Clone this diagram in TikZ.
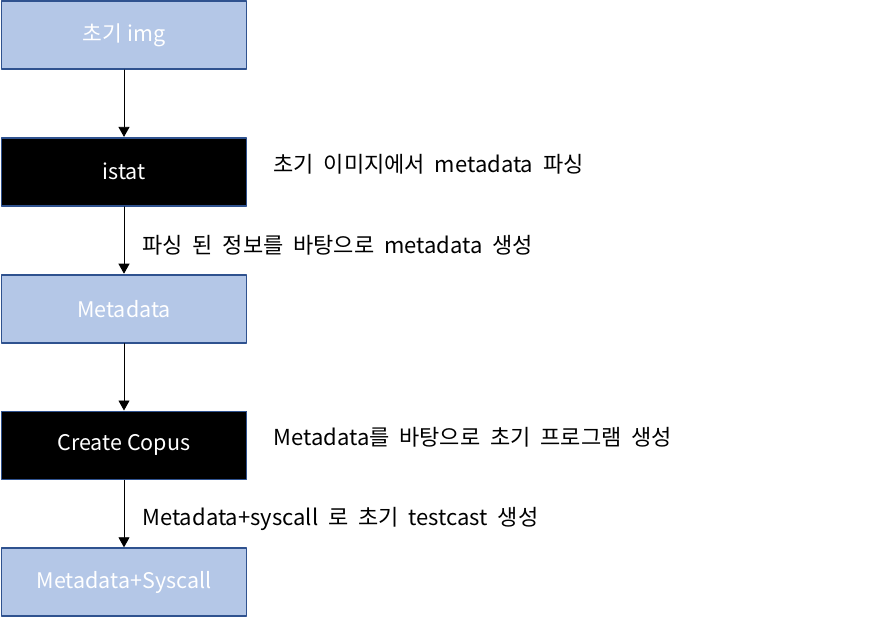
\documentclass[tikz,border=0pt]{standalone}
\usepackage{fontspec}
\setmainfont{Noto Sans CJK KR}
\newfontfamily\notefont[WordSpace=2]{Noto Sans CJK KR}
\usetikzlibrary{arrows.meta,positioning}
\definecolor{boxblue}{HTML}{B4C7E7}
\definecolor{edgeblue}{HTML}{2F528F}

\begin{document}
\begin{tikzpicture}[x=1pt,y=-1pt,line cap=round,line join=round,font=\fontsize{21.5}{24}\selectfont,
  lightbox/.style={draw=edgeblue,fill=boxblue,line width=1.8pt,text=white,minimum width=245pt,minimum height=68pt,inner sep=0pt},
  darkbox/.style={lightbox,fill=black},
  flow/.style={-{Triangle[length=10pt,width=11pt]},black,line width=.8pt},
  note/.style={inner sep=0pt,anchor=west,font=\notefont\fontsize{22}{24}\selectfont}]
\path[use as bounding box] (0,0) rectangle (887,619);
\node[lightbox] (img) at (124,35) {초기 img};
\node[darkbox,below=67pt of img] (istat) {istat};
\node[lightbox,below=67pt of istat] (meta) {Metadata};
\node[darkbox,below=67pt of meta] (copus) {Create Copus};
\node[lightbox,below=67pt of copus] (sys) {Metadata+Syscall};
\draw[flow] (img) -- (istat);
\draw[flow] (istat) -- (meta) node[note,pos=.58,xshift=18pt] (parse) {파싱 된 정보를 바탕으로 metadata 생성};
\draw[flow] (meta) -- (copus);
\draw[flow] (copus) -- (sys) node[note,pos=.57,xshift=18pt] (seed) {Metadata+syscall 로 초기 testcast 생성};
\node[note,right=26pt of istat,yshift=8pt] (extract) {초기 이미지에서 metadata 파싱};
\node[note,right=26pt of copus,yshift=8pt] (prog) {Metadata를 바탕으로 초기 프로그램 생성};
\end{tikzpicture}
\end{document}
